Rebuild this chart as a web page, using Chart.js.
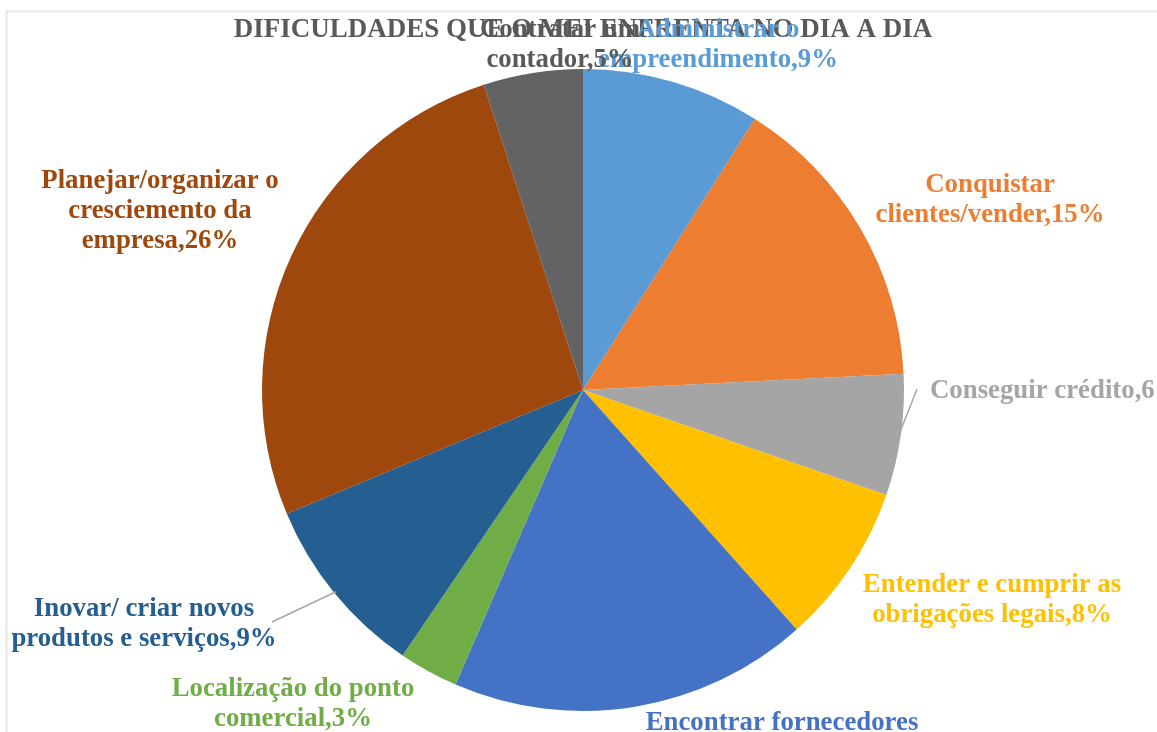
<!DOCTYPE html>
<html lang="pt-BR">

<head>
  <meta charset="UTF-8">
  <title>Dificuldades que o MEI enfrenta no dia a dia</title>
  <script src="https://cdn.jsdelivr.net/npm/chart.js"></script>
  <style>
    body {
      margin: 0;
      background: #fff;
    }

    .wrap {
      width: 1157px;
      height: 732px;
      position: relative;
    }
  </style>
</head>

<body>
  <div class="wrap">
    <canvas id="pieChart"></canvas>
  </div>
  <script>
    const title = 'DIFICULDADES QUE O MEI ENFRENTA NO DIA A DIA';

    const categories = [
      'Administrar o empreendimento',
      'Conquistar clientes/vender',
      'Conseguir crédito',
      'Entender e cumprir as obrigações legais',
      'Encontrar fornecedores',
      'Localização do ponto comercial',
      'Inovar/ criar novos produtos e serviços',
      'Planejar/organizar o cresciemento da empresa',
      'Contratar um contador'
    ];
    const values = [9, 15.2, 6.1, 8.1, 18.1, 3, 9.2, 26.3, 5];
    const colors = ['#5b9bd5', '#ed7d31', '#a5a5a5', '#ffc000', '#4472c4', '#70ad47', '#255e91', '#9e480e', '#636363'];

    // how each data label is broken into lines (Excel wraps them)
    const labelLines = [
      ['Administrar o', 'empreendimento,9%'],
      ['Conquistar', 'clientes/vender,15%'],
      ['Conseguir crédito,6%'],
      ['Entender e cumprir as', 'obrigações legais,8%'],
      ['Encontrar fornecedores', ',18%'],
      ['Localização do ponto', 'comercial,3%'],
      ['Inovar/ criar novos', 'produtos e serviços,9%'],
      ['Planejar/organizar o', 'cresciemento da', 'empresa,26%'],
      ['Contratar um', 'contador,5%']
    ];

    // label placement: x, first baseline, alignment, leader line end
    const labelPos = [
      { x: 718, y: 37, align: 'center' },
      { x: 990, y: 192, align: 'center' },
      { x: 930, y: 398, align: 'left', leader: [917, 389] },
      { x: 992, y: 592, align: 'center' },
      { x: 782, y: 730, align: 'center' },
      { x: 293, y: 696, align: 'center' },
      { x: 144, y: 616, align: 'center', leader: [272, 622] },
      { x: 160, y: 188, align: 'center' },
      { x: 560, y: 37, align: 'center' }
    ];
    const textColors = ['#5b9bd5', '#ed7d31', '#a5a5a5', '#ffc000', '#4472c4', '#70ad47', '#255e91', '#9e480e', '#595959'];

    const labelsPlugin = {
      id: 'excelLabels',
      beforeDraw(chart) {
        const ctx = chart.ctx;
        ctx.save();
        ctx.strokeStyle = '#e6e6e6';
        ctx.lineWidth = 2;
        ctx.beginPath();
        ctx.moveTo(6.5, 732);
        ctx.lineTo(6.5, 11.5);
        ctx.lineTo(1157, 11.5);
        ctx.stroke();
        ctx.restore();
      },
      afterDraw(chart) {
        const ctx = chart.ctx;
        const arcs = chart.getDatasetMeta(0).data;
        ctx.save();
        ctx.textBaseline = 'alphabetic';

        ctx.font = 'bold 27px "Liberation Serif", "Times New Roman", serif';
        ctx.fillStyle = '#595959';
        ctx.textAlign = 'center';
        ctx.fillText(title, 583, 37);

        ctx.font = 'bold 26.8px "Liberation Serif", "Times New Roman", serif';
        labelLines.forEach((lines, i) => {
          const p = labelPos[i];
          if (p.leader) {
            const a = arcs[i];
            const mid = (a.startAngle + a.endAngle) / 2;
            ctx.strokeStyle = '#a6a6a6';
            ctx.lineWidth = 1.5;
            ctx.beginPath();
            ctx.moveTo(a.x + Math.cos(mid) * (a.outerRadius - 2), a.y + Math.sin(mid) * (a.outerRadius - 2));
            ctx.lineTo(p.leader[0], p.leader[1]);
            ctx.stroke();
          }
          ctx.fillStyle = textColors[i];
          ctx.textAlign = p.align;
          lines.forEach((t, k) => ctx.fillText(t, p.x, p.y + k * 30));
        });
        ctx.restore();
      }
    };

    new Chart(document.getElementById('pieChart'), {
      type: 'pie',
      data: {
        labels: categories,
        datasets: [{
          data: values,
          backgroundColor: colors,
          borderWidth: 0
        }]
      },
      options: {
        responsive: true,
        maintainAspectRatio: false,
        animation: false,
        layout: {
          padding: { top: 69, bottom: 21, left: 262, right: 253 }
        },
        plugins: {
          legend: { display: false },
          tooltip: { enabled: false }
        }
      },
      plugins: [labelsPlugin]
    });
  </script>
</body>

</html>
